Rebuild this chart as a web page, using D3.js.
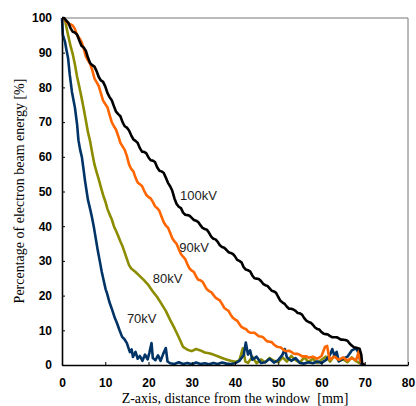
<html>
<head>
  <title></title>
  <script src="https://d3js.org/d3.v7.min.js"></script>
  <style type="text/css">
  body { margin: 0; background: #fff; }
  .tick text {
    font-family: "Liberation Sans", Arial, sans-serif;
    font-weight: bold;
    font-size: 12px;
    fill: #000;
  }
  .title {
    font-family: "Liberation Serif", "Times New Roman", serif;
    font-size: 14px;
    white-space: pre;
  }
  .lbl {
    font-family: "Liberation Sans", Arial, sans-serif;
    font-size: 13px;
    fill: #222;
  }
  </style>
</head>
<body>
<div id="viz"></div>
<script type="text/javascript">

const W = 416, H = 406;

const xTicks = [0, 10, 20, 30, 40, 50, 60, 70, 80];
const yTicks = [0, 10, 20, 30, 40, 50, 60, 70, 80, 90, 100];
const seriesNames = ["80kV", "70kV", "90kV", "100kV"];
const seriesColors = ["#8c8c00", "#003366", "#ff6600", "#000000"];

// [distance mm, percent]
const kv100 = [[0,100],[0.5,100],[1,99.2],[1.5,98.6],[2,97.0],[2.5,96.0],[3,95.8],[3.5,95.2],[4,93.5],[4.5,92.0],[5,91.5],
  [5.5,90.6],[6,88.6],[6.5,87.0],[7,86.4],[7.5,86.0],[8,84.7],[8.5,83.0],[9,82.0],[9.5,81.6],[10,80.3],[10.5,78.4],
  [11,77.2],[11.5,76.3],[12,74.6],[12.5,73.0],[13,72.3],[13.5,71.7],[14,70.0],[14.5,68.8],[15,68.4],[15.5,67.6],[16,66.2],
  [16.5,65.0],[17,64.6],[17.5,64.0],[18,62.5],[18.5,61.5],[19,61.4],[19.5,61.0],[20,59.8],[20.5,59.0],[21,58.9],[21.5,58.5],
  [22,57.0],[22.5,56.0],[23,55.8],[23.5,55.4],[24,54.0],[24.5,52.5],[25,51.5],[25.5,50.2],[26,48.0],[26.5,46.4],[27,45.6],
  [27.5,45.2],[28,43.9],[28.5,43.3],[29,43.2],[29.5,43.0],[30,42.4],[30.5,41.8],[31,41.6],[31.5,41.2],[32,40.3],[32.5,39.5],
  [33,39.2],[33.5,39.0],[34,38.1],[34.5,37.0],[35,36.4],[35.5,36.2],[36,35.5],[36.5,34.5],[37,34.0],[37.5,33.8],[38,33.2],
  [38.5,32.5],[39,32.3],[39.5,32.0],[40,31.3],[40.5,30.3],[41,30.0],[41.5,29.6],[42,28.2],[42.5,27.5],[43,27.3],[43.5,27.0],
  [44,25.8],[44.5,25.0],[45,24.9],[45.5,24.8],[46,24.2],[46.5,23.4],[47,23.0],[47.5,22.8],[48,22.1],[48.5,21.4],[49,21.2],
  [49.5,20.8],[50,19.6],[50.5,18.5],[51,18.0],[51.5,17.6],[52,16.8],[52.5,16.2],[53,16.2],[53.5,16.0],[54,15.6],[54.5,15.0],
  [55,14.9],[55.5,14.5],[56,13.5],[56.5,12.8],[57,12.4],[57.5,12.2],[58,11.6],[58.5,10.8],[59,10.4],[59.5,10.2],[60,9.5],
  [60.5,9.0],[61,8.9],[61.5,8.8],[62,8.3],[62.5,8.0],[63,8.0],[63.5,8.0],[64,7.7],[64.5,7.3],[65,7.3],[65.5,7.2],[66,7.0],
  [66.5,6.2],[67,5.6],[67.5,5.1],[68,5.0],[68.8,4.7],[69.2,3.0],[69.4,0.5],[70,0]];

const kv90 = [[0,100],[0.5,99.8],[1,99.0],[1.5,98.2],[2,98.2],[2.5,97.8],[3,96.8],[3.5,95.0],[4,94.2],[4.5,93.2],[5,91.3],
  [5.5,89.0],[6,87.8],[6.5,86.8],[7,85.0],[7.5,82.6],[8,81.5],[8.5,80.4],[9,78.3],[9.5,76.2],[10,75.2],[10.5,74.3],[11,72.1],
  [11.5,70.0],[12,68.8],[12.5,67.8],[13,66.0],[13.5,64.0],[14,63.0],[14.5,62.0],[15,60.2],[15.5,57.8],[16,56.5],[16.5,55.8],
  [17,54.0],[17.5,52.6],[18,52.1],[18.5,51.6],[19,50.2],[19.5,49.0],[20,48.4],[20.5,48.0],[21,47.0],[21.5,45.8],[22,45.2],
  [22.5,44.5],[23,42.8],[23.5,41.2],[24,40.2],[24.5,39.6],[25,38.1],[25.5,36.5],[26,35.6],[26.5,34.9],[27,33.4],[27.5,32.0],
  [28,31.2],[28.5,30.5],[29,29.0],[29.5,27.8],[30,27.2],[30.5,26.8],[31,25.5],[31.5,24.6],[32,24.4],[32.5,24.0],[33,22.9],
  [33.5,21.8],[34,21.3],[34.5,21.0],[35,20.2],[35.5,19.4],[36,19.0],[36.5,18.6],[37,17.6],[37.5,16.5],[38,16.0],[38.5,15.6],
  [39,14.5],[39.5,13.6],[40,13.1],[40.5,12.8],[41,11.8],[41.5,11.0],[42,10.6],[42.5,10.4],[43,9.7],[43.5,9.3],[44,9.3],
  [44.5,9.3],[45,8.8],[45.5,8.3],[46,8.2],[46.5,8.0],[47,7.3],[47.5,6.8],[48,6.7],[48.5,6.6],[49,5.9],[49.5,5.4],[50,5.2],
  [50.5,5.1],[51,4.6],[51.5,4.1],[52,4.0],[52.5,4.1],[53,3.8],[53.5,3.3],[54,3.2],[54.5,3.2],[55,2.9],[55.5,2.5],[56,2.5],
  [56.5,2.5],[57,2.1],[58,2.4],[59,1.8],[60,2.6],[60.8,5.2],[61.3,5.5],[61.8,2.0],[62,1.6],[63,2.4],[64,1.5],[65,2.2],
  [66,1.3],[67,2.0],[68,1.4],[68.6,3.8],[69,1.0],[69.5,0.5]];

const kv80 = [[0,100],[0.7,99.4],[1,97.5],[1.4,95.1],[2,91.8],[2.5,89.5],[3,86.5],[3.5,83.0],[4,80.2],[4.5,77.2],[5,74.0],
  [5.5,70.6],[6,67.1],[6.5,64.5],[7,61.0],[7.5,57.8],[8,55.6],[8.5,53.5],[9,51.2],[9.5,49.0],[10,47.2],[10.5,45.0],[11,43.4],
  [11.5,42.0],[12,40.0],[12.5,38.6],[13,37.2],[13.5,35.6],[14,34.2],[14.5,32.4],[15,30.6],[15.5,28.8],[16,27.8],[17,26.8],
  [18,25.6],[19,24.4],[20,23.0],[21,21.2],[22,19.6],[23,17.6],[24,15.6],[25,13.0],[26,10.6],[27,8.0],[28,5.2],[29,4.4],
  [30,4.0],[31,4.6],[32,4.2],[33,3.6],[34,3.4],[35,3.0],[36,2.5],[37,2.0],[38,1.6],[39,1.2],[40,0.9],[41,1.3],[41.8,4.8],
  [42.4,1.0],[43,0.6],[44,2.4],[45,0.5],[46,1.6],[47,0.8],[48,2.0],[49,1.2],[50,0.8],[51,2.2],[52,1.0],[53,2.6],[54,1.4],
  [55,0.7],[56,2.2],[57,0.9],[58,1.8],[59,0.6],[60,1.5],[61,2.4],[62,1.0],[63,2.8],[64,1.2],[65,1.6],[66,0.8],[67,2.2],
  [68,1.1],[69,0.4]];

const kv70 = [[0,100],[0.2,95.1],[0.7,93.1],[1,91.0],[1.4,88.5],[1.8,83.6],[2.3,78.7],[3.0,74.1],[3.5,69.2],[3.8,64.8],
  [4.2,62.0],[4.6,59.9],[5.0,56.2],[5.3,53.3],[5.7,50.0],[6.0,47.6],[6.5,45.0],[6.9,42.7],[7.3,40.2],[7.6,38.0],[8.2,33.5],
  [8.8,29.5],[9.2,26.8],[9.7,24.0],[10.1,21.8],[10.4,20.7],[11.0,18.0],[11.6,15.9],[12.2,13.6],[12.7,12.1],[13.3,10.0],
  [13.9,8.1],[14.4,7.5],[15.0,6.3],[15.4,4.8],[15.7,3.7],[16.1,4.5],[16.4,2.3],[17,3.8],[17.5,1.8],[18,2.6],[18.6,1.2],
  [19.2,3.0],[19.8,1.6],[20.2,3.5],[20.7,6.3],[21,2.0],[21.6,1.4],[22.2,2.8],[22.8,1.2],[23.4,3.2],[24,4.9],[24.4,1.0],
  [25,0.5],[26,0.3],[27,0.8],[28,0.3],[29,0.6],[30,0.2],[31,0.7],[32,0.3],[33,0.5],[34,0.2],[35,0.6],[36,0.3],[37,0.7],
  [38,0.4],[39,0.3],[40,0.5],[41,1.2],[42,2.8],[42.5,6.5],[43,3.0],[43.5,4.2],[44,1.5],[45,2.4],[46,0.6],[47,0.8],[48,1.8],
  [49,0.7],[50,1.4],[51,3.0],[51.5,4.6],[52,2.2],[53,1.2],[54,2.0],[55,0.6],[56,0.4],[57,0.8],[58,0.5],[59,1.0],[60,0.6],
  [61,1.4],[62,3.0],[62.5,4.6],[63,2.6],[63.5,3.8],[64,1.0],[65,1.8],[66,2.4],[67,4.2],[68,4.8],[68.5,3.6],[69,1.0],[69.3,0]];

const seriesData = [kv80, kv70, kv90, kv100];
// label anchor in data units
const labelAt = [[21, 23.6], [15, 12.1], [27.1, 32.7], [27.3, 47.5]];

const svg = d3.select("#viz")
  .append("svg")
  .attr("width", W)
  .attr("height", H);

const x = d3.scaleLinear().domain([0, 80]).range([62, 408]);
const y = d3.scaleLinear().domain([0, 100]).range([365, 18]);

// frame top/right
svg.append("path")
  .attr("d", `M${x(0)},${y(100)}H${x(80)}V${y(0)}`)
  .attr("fill", "none")
  .attr("stroke", "#777")
  .attr("stroke-width", 1);

const line = d3.line()
  .x(d => x(d[0]))
  .y(d => y(d[1]));

seriesData.forEach((s, i) => {
  svg.append("path")
    .datum(s)
    .attr("d", line)
    .attr("fill", "none")
    .attr("stroke", seriesColors[i])
    .attr("stroke-width", 2.6)
    .attr("stroke-linejoin", "round");
});

const xAxis = svg.append("g")
  .attr("transform", `translate(0,${y(0)})`)
  .call(d3.axisBottom(x).tickValues(xTicks).tickSize(-3).tickSizeOuter(0).tickPadding(13));

const yAxis = svg.append("g")
  .attr("transform", `translate(${x(0)},0)`)
  .call(d3.axisLeft(y).tickValues(yTicks).tickSize(-3).tickSizeOuter(0).tickPadding(10));

[xAxis, yAxis].forEach(a => {
  a.select(".domain").attr("stroke", "#000").attr("stroke-width", 1.6);
  a.selectAll(".tick line").attr("stroke", "#000").attr("stroke-width", 1);
});

seriesNames.forEach((n, i) => {
  svg.append("text")
    .attr("class", "lbl")
    .attr("x", x(labelAt[i][0]))
    .attr("y", y(labelAt[i][1]))
    .text(n);
});

svg.append("text")
  .attr("class", "title")
  .attr("x", 235)
  .attr("y", 403)
  .attr("text-anchor", "middle")
  .text("Z-axis, distance from the window  [mm]");

svg.append("text")
  .attr("class", "title")
  .attr("transform", "translate(24,191) rotate(-90)")
  .attr("text-anchor", "middle")
  .text("Percentage of electron beam energy [%]");

</script>
</body>
</html>
